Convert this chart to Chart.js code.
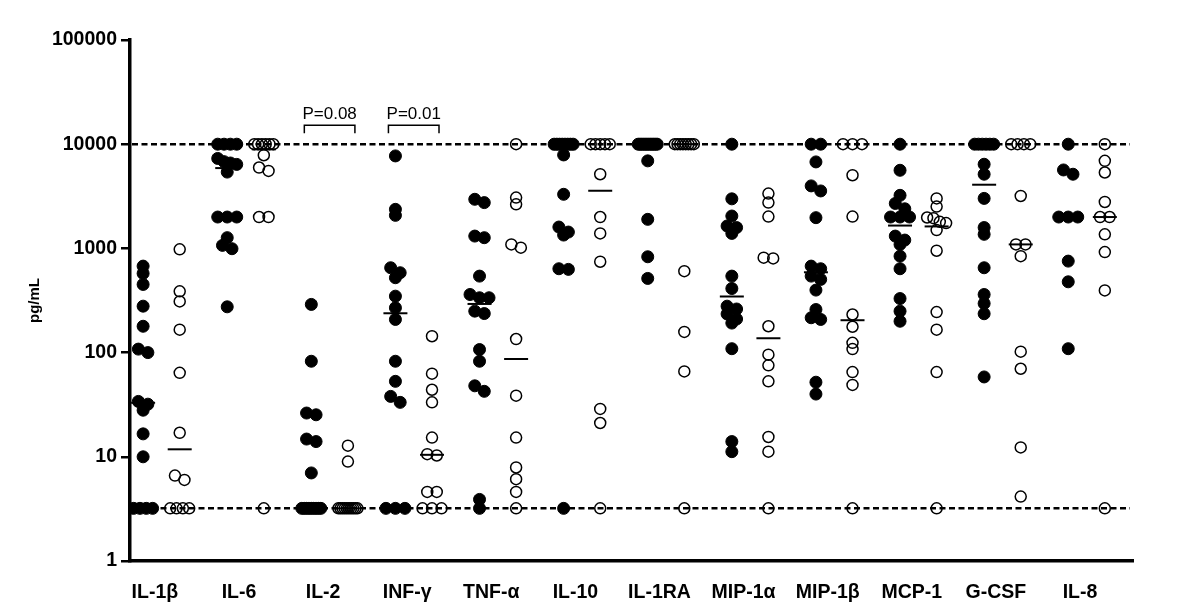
<!DOCTYPE html>
<html>
<head>
<meta charset="utf-8">
<script src="https://cdn.jsdelivr.net/npm/chart.js@4.4.1/dist/chart.umd.min.js"></script>
<style>
  html, body { margin: 0; padding: 0; background: #fff; }
  #wrap { width: 1200px; height: 608px; }
</style>
</head>
<body>
<div id="wrap"><canvas id="chart"></canvas></div>
<script>
const U = 10000; // upper limit of quantification
const L = 3.2;   // detection limit

const cytokines = ["IL-1β", "IL-6", "IL-2", "INF-γ", "TNF-α", "IL-10",
  "IL-1RA", "MIP-1α", "MIP-1β", "MCP-1", "G-CSF", "IL-8"];

// filled circles
const filledValues = [
  [676, 575, 451, 279, 179, 108, 100, 34, 32, 28, 16.6, 10, L, L, L, L],
  [U, U, U, U, 7300, 6800, 6600, 6400, 5400, 2000, 2000, 2000, 1268, 1069, 993, 275],
  [290, 82.6, 26.3, 25.3, 14.8, 14, 7, L, L, L, L, L, L, L, L, L],
  [7720, 2370, 2075, 652, 584, 523, 348, 269, 208, 82.6, 53, 38, 33.3, L, L, L],
  [2960, 2750, 1313, 1267, 542, 361, 336, 336, 250, 237, 107, 82.6, 48, 42.5, 3.9, L],
  [U, U, U, U, U, U, U, U, 7890, 3305, 1603, 1435, 1343, 638, 629, L],
  [U, U, U, U, U, U, U, U, U, U, U, U, 6920, 1900, 831, 515],
  [U, 2990, 2045, 1640, 1585, 1393, 542, 412, 279, 262, 235, 210, 192, 109, 14, 11.2],
  [U, U, 6760, 3980, 3560, 1972, 676, 638, 542, 504, 398, 259, 216, 208, 52, 40],
  [U, 5620, 3230, 2700, 2400, 2000, 2000, 2000, 1313, 1202, 1092, 843, 638, 330, 250, 200],
  [U, U, U, U, U, U, 6420, 5150, 3020, 1585, 1365, 652, 361, 296, 236, 58.4],
  [U, 5660, 5150, 2000, 2000, 2000, 755, 478, 109]
];

// open circles
const openValues = [
  [980, 387, 310, 166, 64, 17, 6.6, 6, L, L, L, L],
  [U, U, U, U, U, U, 7840, 5970, 5540, 2000, 2000, L],
  [12.8, 9, L, L, L, L, L, L, L, L, L, L],
  [143.6, 62.8, 44, 33.3, 15.3, 10.6, 10.3, 4.6, 4.6, L, L, L],
  [U, 3075, 2650, 1092, 1016, 135, 38.6, 15.3, 7.9, 6.1, 4.6, L],
  [U, U, U, U, U, 5150, 2000, 1393, 745, 28.8, 21.1, L],
  [U, U, U, U, U, U, U, U, 605, 158, 66, L],
  [3357, 2750, 2020, 815, 801, 179, 95.6, 75.5, 53, 15.5, 11.2, L],
  [U, U, U, 5040, 2020, 232, 177, 124, 108, 65, 49, L],
  [3020, 2520, 1980, 1950, 1800, 1750, 1500, 950, 245, 166, 65, L],
  [U, U, U, U, 3185, 1092, 1092, 843, 102, 70, 12.3, 4.15],
  [U, 6920, 5350, 2790, 2000, 2000, 1365, 922, 395, L]
];

const yTicks = [1, 10, 100, 1000, 10000, 100000];
const refLines = [U, L];
const pNotes = [
  { cytokine: "IL-2", text: "P=0.08" },
  { cytokine: "INF-γ", text: "P=0.01" }
];

const FONT = '"Liberation Sans", Arial, sans-serif';
const X_MIN = -0.156, X_MAX = 11.77;
const PX_PER_X = 1003 / (X_MAX - X_MIN);
const PX_PER_DECADE = 104;
const OPEN_SHIFT = 0.435;

Chart.defaults.font.family = FONT;

// spread points of similar value side by side, like a column scatter
function swarm(values, center) {
  const sorted = [...values].sort((a, b) => b - a);
  const pts = [];
  let i = 0;
  while (i < sorted.length) {
    const y0 = Math.log10(sorted[i]) * PX_PER_DECADE;
    let j = i + 1;
    while (j < sorted.length && y0 - Math.log10(sorted[j]) * PX_PER_DECADE < 6) j++;
    const row = sorted.slice(i, j);
    const n = row.length;
    const step = n > 1 ? Math.min(9.5, 19 / (n - 1)) : 0;
    row.forEach((v, k) => {
      pts.push({ x: center + ((k - (n - 1) / 2) * step) / PX_PER_X, y: v });
    });
    i = j;
  }
  return pts;
}

function median(arr) {
  const s = [...arr].sort((a, b) => a - b);
  const m = Math.floor(s.length / 2);
  return s.length % 2 ? s[m] : (s[m - 1] + s[m]) / 2;
}

const filledPoints = cytokines.flatMap((c, i) => swarm(filledValues[i], i));
const openPoints = cytokines.flatMap((c, i) => swarm(openValues[i], i + OPEN_SHIFT));
const medianPoints = cytokines.flatMap((c, i) => [
  { x: i, y: median(filledValues[i]) },
  { x: i + OPEN_SHIFT, y: median(openValues[i]) }
]);

const refLinePlugin = {
  id: "refLines",
  beforeDatasetsDraw(chart) {
    const { ctx, chartArea, scales: { y } } = chart;
    ctx.save();
    ctx.strokeStyle = "#000";
    ctx.lineWidth = 2.5;
    ctx.setLineDash([6, 3.5]);
    refLines.forEach(v => {
      const py = y.getPixelForValue(v);
      ctx.beginPath();
      ctx.moveTo(chartArea.left + 2, py);
      ctx.lineTo(chartArea.right - 3, py);
      ctx.stroke();
    });
    ctx.restore();
  }
};

const pNotePlugin = {
  id: "pNotes",
  afterDatasetsDraw(chart) {
    const { ctx, scales: { x, y } } = chart;
    const top = y.getPixelForValue(U) - 19;
    ctx.save();
    ctx.strokeStyle = "#000";
    ctx.fillStyle = "#000";
    ctx.lineWidth = 1.5;
    ctx.font = "17px " + FONT;
    ctx.textAlign = "center";
    ctx.textBaseline = "alphabetic";
    pNotes.forEach(n => {
      const i = cytokines.indexOf(n.cytokine);
      const x1 = x.getPixelForValue(i) - 7;
      const x2 = x.getPixelForValue(i + OPEN_SHIFT) + 7;
      ctx.beginPath();
      ctx.moveTo(x1, top + 8);
      ctx.lineTo(x1, top);
      ctx.lineTo(x2, top);
      ctx.lineTo(x2, top + 8);
      ctx.stroke();
      ctx.fillText(n.text, (x1 + x2) / 2, top - 6);
    });
    ctx.restore();
  }
};

new Chart(document.getElementById("chart"), {
  type: "scatter",
  data: {
    datasets: [
      {
        label: "median",
        data: medianPoints,
        pointStyle: "line",
        pointRadius: 12,
        borderColor: "#000",
        borderWidth: 2,
        order: 0
      },
      {
        label: "filled",
        data: filledPoints,
        pointRadius: 6,
        backgroundColor: "#000",
        borderColor: "#000",
        borderWidth: 1,
        order: 1
      },
      {
        label: "open",
        data: openPoints,
        pointRadius: 5.5,
        backgroundColor: "rgba(0,0,0,0)",
        borderColor: "#000",
        borderWidth: 1.5,
        order: 2
      }
    ]
  },
  options: {
    responsive: true,
    maintainAspectRatio: false,
    animation: false,
    events: [],
    layout: { padding: { top: 40, right: 67, bottom: 0, left: 0 } },
    plugins: {
      legend: { display: false },
      tooltip: { enabled: false }
    },
    scales: {
      x: {
        type: "linear",
        min: X_MIN,
        max: X_MAX,
        afterFit: s => { s.height = 47; },
        afterBuildTicks: s => { s.ticks = cytokines.map((c, i) => ({ value: i + 0.14 })); },
        ticks: {
          autoSkip: false,
          maxRotation: 0,
          padding: 12,
          color: "#000",
          font: { size: 19.5, weight: "bold" },
          callback: (v, idx) => cytokines[idx]
        },
        grid: { display: false },
        border: { display: true, color: "#000", width: 3.5 }
      },
      y: {
        type: "logarithmic",
        min: 1,
        max: 100000,
        afterFit: s => { s.width = 130; },
        afterBuildTicks: s => { s.ticks = yTicks.map(v => ({ value: v })); },
        ticks: {
          autoSkip: false,
          padding: 4,
          color: "#000",
          font: { size: 19.5, weight: "bold" },
          callback: v => String(v)
        },
        grid: {
          drawOnChartArea: false,
          drawTicks: true,
          tickLength: 9,
          color: "#000",
          lineWidth: 2.5
        },
        border: { display: true, color: "#000", width: 3.5 },
        title: {
          display: true,
          text: "pg/mL",
          color: "#000",
          font: { size: 15, weight: "bold" },
          padding: { top: 26, bottom: 0 }
        }
      }
    }
  },
  plugins: [refLinePlugin, pNotePlugin]
});
</script>
</body>
</html>
